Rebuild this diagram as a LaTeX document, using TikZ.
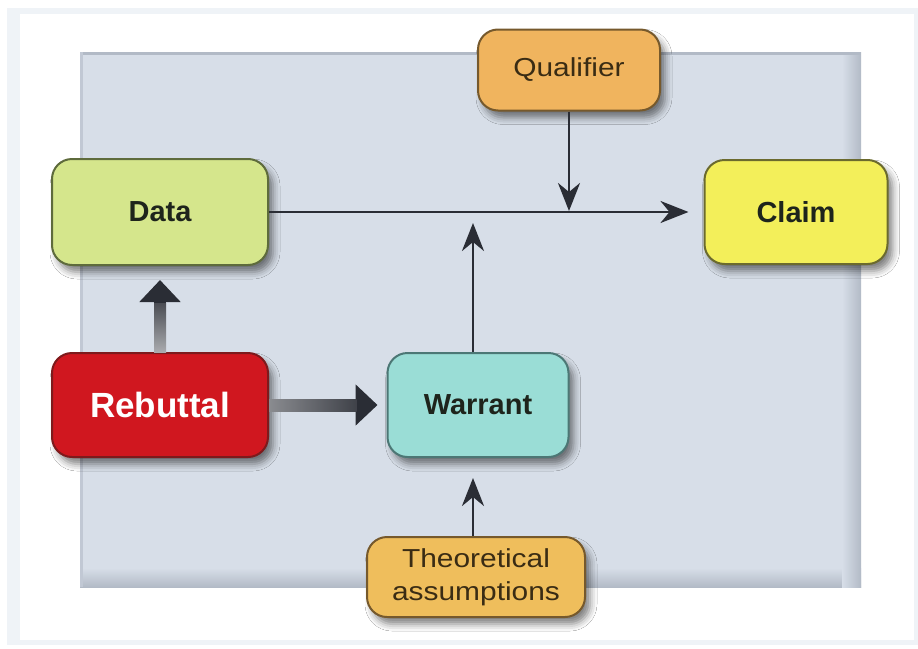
\documentclass[tikz,border=0pt]{standalone}
\usepackage{fontspec}
\setmainfont{Liberation Sans}
\newfontfamily\widesans[FakeStretch=1.15]{Liberation Sans}
\usetikzlibrary{arrows.meta,shadows.blur,calc}
\definecolor{frameC}{HTML}{EFF3F7}
\definecolor{panelC}{HTML}{D7DEE8}
\definecolor{panelD}{HTML}{B2BAC6}
\definecolor{dataC}{HTML}{D5E68C}
\definecolor{dataB}{HTML}{5E6B3C}
\definecolor{claimC}{HTML}{F3EF5A}
\definecolor{claimB}{HTML}{6B6A2E}
\definecolor{qualC}{HTML}{F0B45E}
\definecolor{qualB}{HTML}{76592C}
\definecolor{rebC}{HTML}{D0171F}
\definecolor{rebB}{HTML}{7E1A1C}
\definecolor{warC}{HTML}{9ADDD6}
\definecolor{warB}{HTML}{4C7775}
\definecolor{theoC}{HTML}{EFBE5C}
\definecolor{arrC}{HTML}{2A2D35}
\definecolor{txtC}{HTML}{1E241C}
\definecolor{brownT}{HTML}{3A2C14}
\tikzset{
  box/.style={rounded corners=20pt, line width=2pt, inner sep=0pt,
    blur shadow={shadow xshift=5pt, shadow yshift=-7pt, shadow blur radius=7pt, shadow opacity=50}},
  boldlbl/.style={font=\fontsize{29}{31}\selectfont\bfseries, text=txtC},
  thinlbl/.style={font=\widesans\fontsize{26}{33}\selectfont, text=brownT, align=center},
  thinarrow/.style={draw=arrC, line width=2.8pt, -{Stealth[length=28pt, width=22pt, inset=9pt]}},
  thickarrow/.style={draw=arrC, line width=12pt, -{Triangle[length=22pt, width=40pt]}}
}
\begin{document}
\begin{tikzpicture}[x=1pt, y=-1pt]
\useasboundingbox (0,0) rectangle (918,648);
% outer frame
\fill[frameC] (7,8) rectangle (918,645);
\fill[white] (20,14) rectangle (914,640);
% panel
\fill[panelC] (80,52) rectangle (861,587);
\shade[top color=panelC, bottom color=panelD] (80,568) rectangle (861,587);
\shade[left color=panelC, right color=panelD] (842,52) rectangle (861,587);
\draw[panelD, line width=3pt] (80,53.5) -- (861,53.5);
\draw[panelD!60!panelC, line width=3pt] (81.5,52) -- (81.5,587);

% nodes
\node[box, fill=dataC, draw=dataB, minimum width=216pt, minimum height=106pt, boldlbl] (data) at (160,212) {Data};
\node[box, fill=claimC, draw=claimB, minimum width=183pt, minimum height=104pt, boldlbl] (claim) at (796,212) {Claim};
\node[box, fill=qualC, draw=qualB, minimum width=182pt, minimum height=81pt, thinlbl] (qual) at (569,70) {Qualifier};
\node[box, fill=rebC, draw=rebB, minimum width=216pt, minimum height=104pt, font=\fontsize{35}{37}\selectfont\bfseries, text=white] (reb) at (160,405) {Rebuttal};
\node[box, fill=warC, draw=warB, minimum width=181pt, minimum height=104pt, boldlbl] (warr) at (478,405) {Warrant};
\node[box, fill=theoC, draw=qualB, minimum width=218pt, minimum height=80pt, thinlbl] (theo) at (476,577) {Theoretical\\assumptions};

% thin arrows
\draw[thinarrow, shorten >=15pt] (data.east) -- (claim.west);
\draw[thinarrow, shorten >=1pt] (qual.south) -- (qual.south |- data.east);
\draw[thinarrow, shorten >=11pt] ([xshift=-5pt]warr.north) -- ([xshift=-5pt]warr.north |- data.east);
\draw[thinarrow, shorten >=20pt] ([xshift=-3pt]theo.north) -- ([xshift=-5pt]warr.south);

% thick arrows
\draw[thickarrow, shorten >=14pt] (reb.north) -- (data.south);
\shade[top color=arrC!85!white, bottom color=arrC!40!white] ($(reb.north)+(-6,0)$) rectangle ($(data.south)+(6,37)$);
\draw[thickarrow, shorten >=9pt] (reb.east) -- (warr.west);
\shade[left color=arrC!55!white, right color=arrC!90!white] ($(reb.east)+(0,-6)$) rectangle ($(warr.west)+(-30,6)$);
\end{tikzpicture}
\end{document}
